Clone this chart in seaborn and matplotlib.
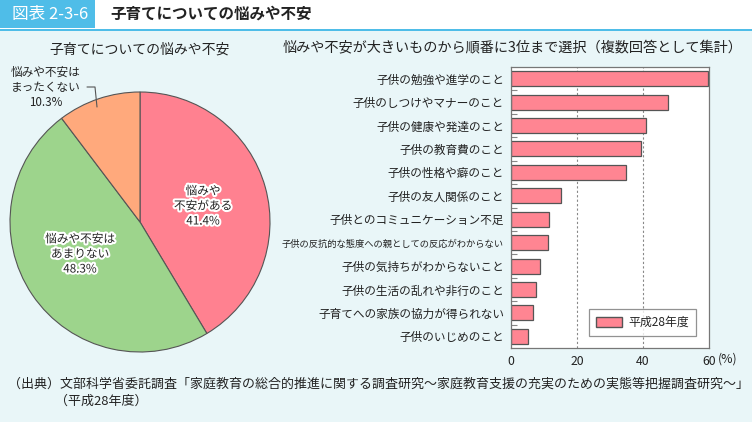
import matplotlib
matplotlib.use("Agg")
import matplotlib.pyplot as plt
import matplotlib.patheffects as pe
from matplotlib.patches import Rectangle, Patch
import seaborn as sns
import pandas as pd

sns.set_theme(style="white")
plt.rcParams['font.family'] = ['Noto Sans CJK JP', 'DejaVu Sans']

# ---- data ----
pie_labels = ["悩みや\n不安がある", "悩みや不安は\nあまりない", "悩みや不安は\nまったくない"]
pie_values = [41.4, 48.3, 10.3]
pie_colors = ["#FF8190", "#9DD48C", "#FFA97C"]

categories = [
    "子供の勉強や進学のこと",
    "子供のしつけやマナーのこと",
    "子供の健康や発達のこと",
    "子供の教育費のこと",
    "子供の性格や癖のこと",
    "子供の友人関係のこと",
    "子供とのコミュニケーション不足",
    "子供の反抗的な態度への親としての反応がわからない",
    "子供の気持ちがわからないこと",
    "子供の生活の乱れや非行のこと",
    "子育てへの家族の協力が得られない",
    "子供のいじめのこと",
]
values = [59.8, 47.5, 40.9, 39.4, 34.8, 15.0, 11.5, 11.2, 8.9, 7.6, 6.8, 5.1]
series_name = "平成28年度"
xticks = [0, 20, 40, 60]

W, H = 752, 422
BG = "#E9F6F8"
BLUE = "#4FBDE8"
BAR = "#FF8592"

fig = plt.figure(figsize=(W / 100, H / 100), dpi=100)
fig.patch.set_facecolor(BG)

def fx(px):
    return px / W

def fy(py):
    return 1 - py / H

# header
fig.patches.append(Rectangle((0, fy(29)), 1, 29 / H, transform=fig.transFigure,
                             facecolor="white", edgecolor="none", zorder=0))
fig.patches.append(Rectangle((0, fy(28)), fx(95), 28 / H, transform=fig.transFigure,
                             facecolor=BLUE, edgecolor="none", zorder=1))
fig.patches.append(Rectangle((0, fy(31)), 1, 2.2 / H, transform=fig.transFigure,
                             facecolor=BLUE, edgecolor="none", zorder=1))
fig.text(fx(12), fy(14), "図表 2-3-6", color="white", fontsize=12, va="center", ha="left")
fig.text(fx(110), fy(14), "子育てについての悩みや不安", color="#222222", fontsize=11.2,
         fontweight="bold", va="center", ha="left")

# ---- pie ----
pcx, pcy, pr = 140, 222, 130
axp = fig.add_axes([fx(pcx - pr), fy(pcy + pr), 2 * pr / W, 2 * pr / H])
axp.pie(pie_values, colors=pie_colors, startangle=90, counterclock=False,
        wedgeprops=dict(edgecolor="#555555", linewidth=0.8))
axp.set_xlim(-1, 1)
axp.set_ylim(-1, 1)
axp.set_aspect("auto")
axp.axis("off")

halo = [pe.withStroke(linewidth=3, foreground="white")]
fig.text(fx(140), fy(50), "子育てについての悩みや不安", fontsize=10, ha="center", va="center", color="#222222")
fig.text(fx(203), fy(206), f"{pie_labels[0]}\n{pie_values[0]}%", fontsize=8.4, ha="center",
         va="center", color="#222222", linespacing=1.2, path_effects=halo)
fig.text(fx(80), fy(254), f"{pie_labels[1]}\n{pie_values[1]}%", fontsize=8.4, ha="center",
         va="center", color="#222222", linespacing=1.2, path_effects=halo)
fig.text(fx(46), fy(87), f"{pie_labels[2]}\n{pie_values[2]}%", fontsize=8.4, ha="center",
         va="center", color="#222222", linespacing=1.2)
fig.add_artist(plt.Line2D([fx(87), fx(95), fx(97)], [fy(87), fy(87), fy(107)],
                          transform=fig.transFigure, color="#555555", linewidth=0.8))

# ---- bars ----
L, R, T, B = 511, 709, 67, 348
axb = fig.add_axes([fx(L), fy(B), (R - L) / W, (B - T) / H])
df = pd.DataFrame({"cat": categories, "val": values})
sns.barplot(data=df, x="val", y="cat", orient="h", color=BAR, edgecolor="#555555",
            linewidth=0.9, width=0.64, saturation=1, ax=axb)
axb.set_facecolor("white")
axb.set_xlim(0, 60)
axb.set_ylim(len(categories) - 0.5, -0.5)
axb.set_xticks(xticks)
axb.set_xticklabels([str(t) for t in xticks], fontsize=8.8, color="#222222")
axb.tick_params(axis="x", length=0, pad=5)
axb.tick_params(axis="y", length=0, pad=5)
for lbl in axb.get_yticklabels():
    lbl.set_fontsize(6.7 if len(lbl.get_text()) > 20 else 8.4)
    lbl.set_color("#222222")
axb.set_yticks([i + 0.5 for i in range(len(categories) - 1)], minor=True)
axb.tick_params(axis="y", which="minor", direction="in", length=4, width=0.8, color="#888888", left=True)
axb.set_xlabel("")
axb.set_ylabel("")
for x in xticks[1:-1]:
    axb.axvline(x, color="#888888", linestyle=(0, (2, 2)), linewidth=0.8, zorder=0)
for s in axb.spines.values():
    s.set_color("#777777")
    s.set_linewidth(0.9)
leg = axb.legend(handles=[Patch(facecolor=BAR, edgecolor="#555555", label=series_name)],
                 loc="lower right", bbox_to_anchor=(0.934, 0.043), borderaxespad=0,
                 fontsize=8.6, frameon=True, fancybox=False, edgecolor="#777777",
                 handlelength=2.2, handleheight=0.9, borderpad=0.6, handletextpad=0.5)
leg.get_frame().set_linewidth(0.9)
fig.text(fx(718), fy(359), "(%)", fontsize=8.8, ha="left", va="center", color="#222222")
fig.text(fx(513), fy(47), "悩みや不安が大きいものから順番に3位まで選択（複数回答として集計）",
         fontsize=10.2, ha="center", va="center", color="#222222")

# ---- footnote ----
fig.text(fx(8), fy(384), "（出典）文部科学省委託調査「家庭教育の総合的推進に関する調査研究～家庭教育支援の充実のための実態等把握調査研究～」",
         fontsize=9.35, ha="left", va="center", color="#222222")
fig.text(fx(55), fy(401), "（平成28年度）", fontsize=9.35, ha="left", va="center", color="#222222")

fig.savefig("out.png", dpi=100, facecolor=fig.get_facecolor())
